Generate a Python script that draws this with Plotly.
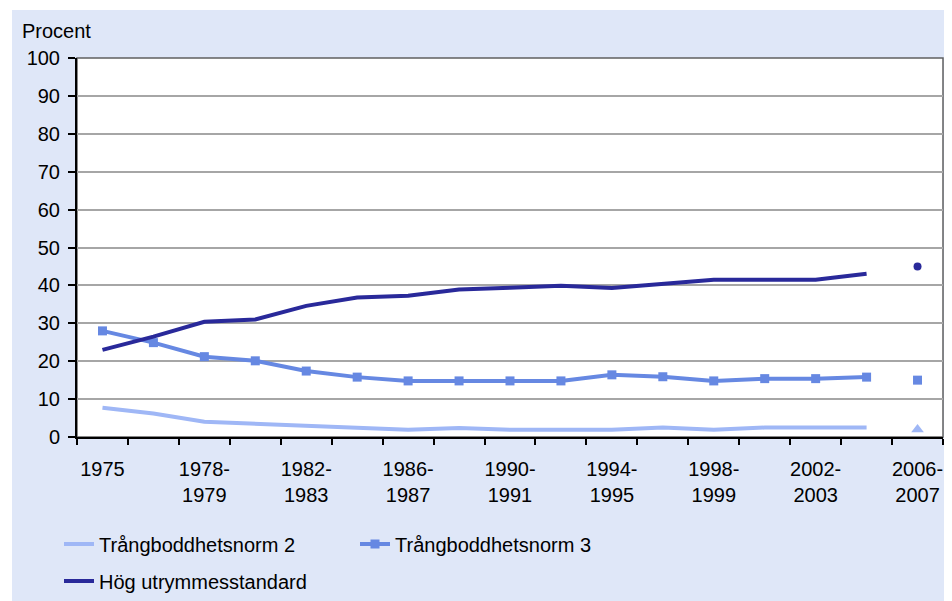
import plotly.graph_objects as go

categories = ["1975", "1976-1977", "1978-1979", "1980-1981", "1982-1983", "1984-1985",
              "1986-1987", "1988-1989", "1990-1991", "1992-1993", "1994-1995",
              "1996-1997", "1998-1999", "2000-2001", "2002-2003", "2004-2005", "2006-2007"]
tick_labels = ["1975", "", "1978-<br>1979", "", "1982-<br>1983", "", "1986-<br>1987", "",
               "1990-<br>1991", "", "1994-<br>1995", "", "1998-<br>1999", "",
               "2002-<br>2003", "", "2006-<br>2007"]

series_cats = categories[:16]
norm2 = [7.7, 6.2, 4.0, 3.5, 3.0, 2.5, 1.9, 2.4, 1.9, 1.9, 1.9, 2.5, 1.9, 2.5, 2.5, 2.5]
norm3 = [28.0, 24.9, 21.2, 20.1, 17.4, 15.8, 14.8, 14.8, 14.8, 14.8, 16.4, 15.9, 14.8, 15.4, 15.4, 15.8]
hog = [23.0, 26.5, 30.4, 31.0, 34.6, 36.8, 37.3, 38.9, 39.4, 39.9, 39.3, 40.5, 41.5, 41.5, 41.5, 43.1]

latest_cat = ["2006-2007"]
norm2_latest = [2.0]
norm3_latest = [15.0]
hog_latest = [45.0]

names = ["Trångboddhetsnorm 2", "Trångboddhetsnorm 3", "Hög utrymmesstandard"]
c_norm2 = "#9fb7f6"
c_norm3 = "#6688e2"
c_hog = "#29299a"
bg_blue = "#dfe7f8"
FONT = "Liberation Sans, Arial, sans-serif"

# page body has an 8px margin on every side; visible figure area is 936 x 593
OFF = 8
W, H = 952 - 2 * OFF, 601 - OFF
# plot area in page pixels: left 77, top 58, right 943, bottom 437
L, T = 77 - OFF, 58 - OFF
PW, PH = 943 - 77, 437 - 58


def px_x(p):
    return (p - OFF - L) / PW


def px_y(p):
    return (T + PH - (p - OFF)) / PH


fig = go.Figure()
fig.add_trace(go.Scatter(x=series_cats, y=norm2, mode="lines", name=names[0],
                         line=dict(color=c_norm2, width=4), legend="legend"))
fig.add_trace(go.Scatter(x=series_cats, y=norm3, mode="lines+markers", name=names[1],
                         line=dict(color=c_norm3, width=4),
                         marker=dict(symbol="square", size=9, color=c_norm3), legend="legend"))
fig.add_trace(go.Scatter(x=series_cats, y=hog, mode="lines", name=names[2],
                         line=dict(color=c_hog, width=4), legend="legend2"))
fig.add_trace(go.Scatter(x=latest_cat, y=norm2_latest, mode="markers", showlegend=False,
                         marker=dict(symbol="triangle-up", size=11, color=c_norm2)))
fig.add_trace(go.Scatter(x=latest_cat, y=norm3_latest, mode="markers", showlegend=False,
                         marker=dict(symbol="square", size=9, color=c_norm3)))
fig.add_trace(go.Scatter(x=latest_cat, y=hog_latest, mode="markers", showlegend=False,
                         marker=dict(symbol="circle", size=8, color=c_hog)))

shapes = [
    dict(type="rect", xref="paper", yref="paper", x0=px_x(0), x1=px_x(12), y0=px_y(620), y1=px_y(0),
         fillcolor="white", line=dict(width=0), layer="below"),
    dict(type="rect", xref="paper", yref="paper", x0=px_x(0), x1=px_x(960), y0=px_y(10), y1=px_y(0),
         fillcolor="white", line=dict(width=0), layer="below"),
    dict(type="rect", xref="paper", yref="paper", x0=0, x1=1, y0=0, y1=1,
         line=dict(color="#606060", width=1.5), layer="below"),
]

fig.update_layout(
    width=W, height=H,
    margin=dict(l=L, r=W - L - PW, t=T, b=H - T - PH, autoexpand=False),
    paper_bgcolor=bg_blue, plot_bgcolor="white",
    font=dict(family=FONT, size=20, color="black"),
    shapes=shapes,
    xaxis=dict(type="category", categoryorder="array", categoryarray=categories,
               range=[-0.5, 16.5], tickmode="array", tickvals=categories, ticktext=tick_labels,
               tickson="boundaries", ticks="outside", ticklen=6, tickwidth=1.5, tickcolor="black",
               tickangle=0, showline=True, linecolor="black", linewidth=2, showgrid=False,
               ticklabelstandoff=13, tickfont=dict(size=20)),
    yaxis=dict(range=[0, 100], dtick=10, ticks="outside", ticklen=7, tickwidth=1.5,
               tickcolor="black", showline=True, linecolor="black", linewidth=2,
               showgrid=True, gridcolor="#a6a6a6", gridwidth=1.5, zeroline=False,
               ticklabelstandoff=4, tickfont=dict(size=20)),
    legend=dict(orientation="h", xref="paper", yref="paper", x=px_x(59), y=px_y(544),
                xanchor="left", yanchor="middle", bgcolor="rgba(0,0,0,0)",
                entrywidth=251, entrywidthmode="pixels", font=dict(size=20), tracegroupgap=0),
    legend2=dict(orientation="h", xref="paper", yref="paper", x=px_x(59), y=px_y(581),
                 xanchor="left", yanchor="middle", bgcolor="rgba(0,0,0,0)", font=dict(size=20)),
    annotations=[dict(text="Procent", xref="paper", yref="paper", x=px_x(20), y=px_y(31),
                      xanchor="left", yanchor="middle", showarrow=False, font=dict(size=20))],
    showlegend=True,
)

fig.write_html("out.html")
